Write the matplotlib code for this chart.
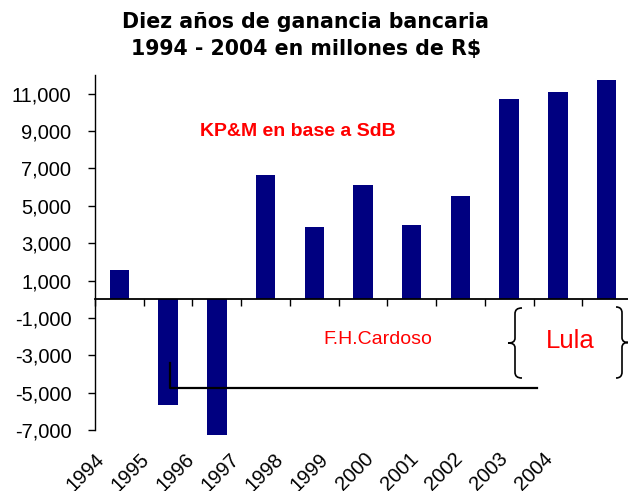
import matplotlib
matplotlib.use("Agg")
import matplotlib.pyplot as plt
from matplotlib.ticker import FuncFormatter, FixedLocator
from matplotlib.path import Path
from matplotlib.patches import PathPatch
from matplotlib.lines import Line2D

years = ["1994", "1995", "1996", "1997", "1998", "1999", "2000", "2001", "2002", "2003", "2004"]
ganancia = [1570, -5640, -7290, 6650, 3870, 6110, 3970, 5520, 10710, 11090, 11730]
yticks = [-7000, -5000, -3000, -1000, 1000, 3000, 5000, 7000, 9000, 11000]

W, H = 628, 491
plt.rcParams['axes.unicode_minus'] = False
fig = plt.figure(figsize=(W / 100, H / 100), dpi=100)

def px(x, y):
    return (x / W, 1 - y / H)

ax = fig.add_axes([95 / W, (H - 430) / H, (631 - 95) / W, (430 - 75) / H])
xs = list(range(len(years)))
ax.bar(xs, ganancia, width=0.4, color="#000080", clip_on=False, zorder=2)
ax.set_xlim(-0.5, len(years) - 0.5)
ax.set_ylim(-7000, 12000)

for s in ["top", "right"]:
    ax.spines[s].set_visible(False)
ax.spines["bottom"].set_position(("data", 0))
ax.spines["bottom"].set_linewidth(1.3)
ax.spines["left"].set_linewidth(1.0)
ax.spines["bottom"].set_zorder(3)

ax.set_yticks(yticks)
ax.yaxis.set_major_formatter(FuncFormatter(lambda v, p: f"{v:,.0f}"))
ax.tick_params(axis="y", direction="out", length=5, width=1.0, pad=12,
               labelsize=14.5)
for lab in ax.get_yticklabels():
    lab.set_fontfamily("Liberation Sans")

ax.xaxis.set_major_locator(FixedLocator([i - 0.5 for i in range(len(years) + 1)]))
ax.tick_params(axis="x", direction="out", length=5, width=1.0, labelbottom=False)

# x labels (rotated)
for i, y in enumerate(years):
    xe = 103.3 + i * 44.84
    fig.text(*px(xe - 2, 456), y, rotation=45, ha="right", va="center",
             rotation_mode="anchor", fontsize=14.5, family="Liberation Sans")

# title
fig.text(*px(306, 22), "Diez años de ganancia bancaria", ha="center", va="center",
         fontsize=14.8, fontweight="bold", family="DejaVu Sans")
fig.text(*px(306, 49), "1994 - 2004 en millones de R$", ha="center", va="center",
         fontsize=14.8, fontweight="bold", family="DejaVu Sans")

# annotations
fig.text(*px(298, 131), "KP&M en base a SdB", ha="center", va="center",
         fontsize=14, fontweight="bold", color="#ff0000", family="Liberation Sans")
fig.text(*px(377.5, 339), "F.H.Cardoso", ha="center", va="center",
         fontsize=14, color="#ff0000", family="Liberation Sans")
fig.text(*px(570, 341), "Lula", ha="center", va="center",
         fontsize=18.5, color="#ff0000", family="Liberation Sans")

# bracket line
bx = [px(170, 363), px(170, 388), px(537, 388)]
fig.add_artist(Line2D([p[0] for p in bx], [p[1] for p in bx], color="black",
                      lw=1.6, transform=fig.transFigure, zorder=5))

def brace(xarm, xv, xtip, y0, y1):
    ym = (y0 + y1) / 2
    d = 1 if xtip < xv else -1
    pts = [(xarm, y0), (xv + d * 2, y0), (xv, y0 + 2), (xv, y0 + 6),
           (xv, ym - 5),
           (xv, ym - 1), (xv - d * 3, ym), (xtip, ym),
           (xv - d * 3, ym), (xv, ym + 1), (xv, ym + 5),
           (xv, y1 - 6),
           (xv, y1 - 2), (xv + d * 2, y1), (xarm, y1)]
    codes = [Path.MOVETO, Path.CURVE4, Path.CURVE4, Path.CURVE4,
             Path.LINETO,
             Path.CURVE4, Path.CURVE4, Path.CURVE4,
             Path.CURVE4, Path.CURVE4, Path.CURVE4,
             Path.LINETO,
             Path.CURVE4, Path.CURVE4, Path.CURVE4]
    verts = [px(*p) for p in pts]
    fig.add_artist(PathPatch(Path(verts, codes), facecolor="none", edgecolor="black",
                             lw=1.2, transform=fig.transFigure))

brace(522, 515, 508, 308, 378)
brace(616, 622, 628, 307, 378)

fig.savefig("out.png", dpi=100)
